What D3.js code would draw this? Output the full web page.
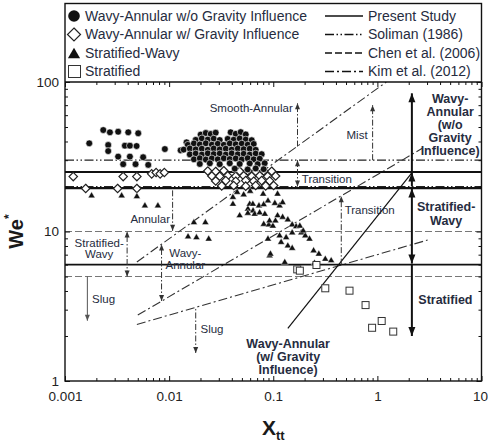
<!DOCTYPE html>
<html>
<head>
<meta charset="utf-8">
<script src="https://cdn.jsdelivr.net/npm/d3@7"></script>
<style>
  body { margin: 0; background: #fff; }
</style>
</head>
<body>
<svg id="chart" width="488" height="443"></svg>
<script>
/*
  Flow pattern map, We* against Xtt, with transition lines from
  the present study, Soliman (1986), Chen et al. (2006) and Kim et al. (2012).
*/

// tick labels
var xTickValues = [0.001, 0.01, 0.1, 1, 10];
var xTickLabels = ["0.001", "0.01", "0.1", "1", "10"];
var yTickValues = [1, 10, 100];
var yTickLabels = ["1", "10", "100"];

// data points [Xtt, We*]
var wavyAnnularNoGravity = [
  [0.00171, 38.9], [0.00233, 47.7], [0.0027, 46.1], [0.00324, 46.5], [0.00405, 46.1],
  [0.00505, 45.4], [0.0026, 37.9], [0.00376, 37.5], [0.0042, 37.5], [0.00487, 37.3],
  [0.0026, 34.5], [0.00324, 31.7], [0.0042, 31.7], [0.00563, 31.4], [0.00362, 28.2],
  [0.00476, 28.2], [0.0063, 27.9], [0.0091, 35.6], [0.0129, 34.9], [0.0147, 39.5],
  [0.0201, 44.5], [0.0225, 45.6], [0.0251, 44.9], [0.028, 45.8], [0.039, 46.1],
  [0.0436, 45.0], [0.0487, 46.2], [0.0544, 44.6],
  [0.018, 41.0], [0.0206, 41.9], [0.0235, 41.2], [0.0268, 41.8], [0.0306, 40.9],
  [0.0365, 41.6], [0.0417, 41.1], [0.0476, 41.9], [0.0544, 41.2], [0.0621, 40.8],
  [0.0151, 38.0], [0.0173, 38.8], [0.0197, 38.2], [0.0225, 38.9], [0.0257, 38.1],
  [0.0293, 38.6], [0.0335, 38.0], [0.0382, 38.8], [0.0436, 38.3], [0.0498, 38.7],
  [0.0568, 38.1], [0.0649, 38.5],
  [0.0138, 35.3], [0.0158, 35.9], [0.018, 35.4], [0.0206, 35.8], [0.0235, 35.2],
  [0.0268, 35.9], [0.0306, 35.4], [0.035, 35.8], [0.0399, 35.3], [0.0456, 35.9],
  [0.052, 35.5], [0.0594, 35.8], [0.0678, 35.2],
  [0.0158, 32.8], [0.018, 33.2], [0.0206, 32.7], [0.0235, 33.3], [0.0268, 32.9],
  [0.0306, 33.2], [0.035, 32.7], [0.0399, 33.3], [0.0456, 32.8], [0.052, 33.1],
  [0.0594, 32.7], [0.0678, 33.2], [0.0774, 32.9],
  [0.0173, 30.4], [0.0197, 30.9], [0.0225, 30.3], [0.0257, 30.8], [0.0293, 30.4],
  [0.0335, 30.9], [0.0382, 30.5], [0.0436, 30.8], [0.0498, 30.3], [0.0568, 30.9],
  [0.0649, 30.4], [0.0741, 30.7],
  [0.0197, 28.3], [0.0246, 28.6], [0.0306, 28.2], [0.0382, 28.6], [0.0476, 28.3],
  [0.0594, 28.5], [0.0709, 28.2], [0.0827, 28.6],
  [0.0427, 26.3], [0.0568, 26.0], [0.0678, 26.4], [0.0809, 26.1]
];

var wavyAnnularGravity = [
  [0.0012, 23.3], [0.00158, 19.4], [0.0032, 19.4], [0.00362, 23.3], [0.0049, 23.3],
  [0.0049, 19.4], [0.0068, 24.3], [0.0075, 24.8], [0.0082, 24.3], [0.009, 24.8],
  [0.0235, 25.4], [0.028, 25.2], [0.0335, 25.5], [0.0476, 25.3], [0.0568, 25.5],
  [0.0678, 25.2], [0.0809, 25.4], [0.0966, 25.3],
  [0.0257, 23.5], [0.0306, 23.4], [0.0365, 23.6], [0.0436, 23.4], [0.052, 23.6],
  [0.0621, 23.4], [0.0741, 23.6], [0.0884, 23.4], [0.1054, 23.5],
  [0.028, 21.8], [0.035, 21.9], [0.0436, 21.7], [0.0544, 21.9], [0.0649, 21.7],
  [0.0774, 21.9], [0.0924, 21.8],
  [0.032, 20.2], [0.0417, 20.3], [0.0544, 20.1], [0.0678, 20.3], [0.0846, 20.2],
  [0.1009, 20.3]
];

var stratifiedWavy = [
  [0.0018, 17.5], [0.0035, 17.5], [0.0049, 17.3], [0.00585, 15.0], [0.0078, 15.0],
  [0.0173, 11.6], [0.0223, 11.6], [0.0152, 9.33], [0.0183, 9.2], [0.024, 9.0],
  [0.041, 15.4], [0.0476, 12.9], [0.0571, 14.3], [0.064, 13.9], [0.089, 9.0],
  [0.0923, 6.96], [0.041, 17.1], [0.045, 18.5], [0.052, 17.8], [0.06, 18.8],
  [0.08, 18.0], [0.11, 18.0], [0.0594, 15.4], [0.0637, 15.4], [0.0729, 15.0],
  [0.081, 15.3], [0.089, 16.2], [0.1036, 15.6], [0.115, 15.0], [0.123, 15.8],
  [0.057, 13.4], [0.0663, 13.2], [0.074, 13.5], [0.083, 13.2], [0.11, 12.9],
  [0.123, 12.6], [0.138, 12.1], [0.081, 11.3], [0.0905, 11.2], [0.0991, 11.0],
  [0.092, 11.9], [0.105, 11.9], [0.152, 11.2], [0.166, 10.9], [0.18, 11.0],
  [0.115, 9.47], [0.133, 9.2], [0.152, 9.9], [0.186, 9.9], [0.203, 9.47],
  [0.223, 9.0], [0.194, 10.2], [0.119, 8.55], [0.138, 8.1], [0.152, 7.8],
  [0.094, 7.14], [0.244, 7.52], [0.274, 7.14], [0.316, 6.6], [0.36, 6.45],
  [0.129, 6.28], [0.249, 6.2]
];

var stratified = [
  [0.17, 5.58], [0.18, 5.47], [0.26, 5.97], [0.316, 4.17], [0.54, 4.02],
  [0.77, 3.22], [0.89, 2.27], [1.1, 2.52], [1.42, 2.14]
];

// transition lines
var presentLevels = [25, 19.5, 6];
var presentDiagonal = [[0.138, 2.25], [2.17, 25]];
var solimanLevels = [30, 20];
var chenLevels = [10, 5];
var kimLines = [
  [[0.0049, 6.25], [1.22, 100]],
  [[0.005, 2.76], [2.7, 36]],
  [[0.0049, 2.39], [3.04, 8.77]]
];

var FONT = "'Liberation Sans', Arial, Helvetica, sans-serif";
var TEXTCOL = "#262c40";
var DASH_KIM = "9,3,2,3";
var DASH_SOLIMAN = "9,2.5,1.5,2.5,1.5,2.5";
var DASH_CHEN = "7,3";
var DASH_ANNO = "6,2,1.5,2";

var svg = d3.select("#chart").attr("font-family", FONT);
var margin = {top: 82, right: 481.5, bottom: 381, left: 65};

var x = d3.scaleLog().domain([0.001, 10]).range([margin.left, margin.right]);
var y = d3.scaleLog().domain([1, 100]).range([margin.bottom, margin.top]);

var line = d3.line()
  .x(function(d) { return x(d[0]); })
  .y(function(d) { return y(d[1]); });

svg.append("clipPath").attr("id", "plotClip")
  .append("rect")
  .attr("x", margin.left).attr("y", margin.top)
  .attr("width", margin.right - margin.left)
  .attr("height", margin.bottom - margin.top);

var gLines = svg.append("g").attr("clip-path", "url(#plotClip)");

// Chen et al. (2006), dashed
chenLevels.forEach(function(v) {
  gLines.append("path")
    .attr("d", line([[0.001, v], [10, v]]))
    .attr("stroke", "#777").attr("stroke-width", 1)
    .attr("stroke-dasharray", DASH_CHEN).attr("fill", "none");
});

// Soliman (1986), dash-dot-dot
solimanLevels.forEach(function(v) {
  gLines.append("path")
    .attr("d", line([[0.001, v], [10, v]]))
    .attr("stroke", "#222").attr("stroke-width", 1.1)
    .attr("stroke-dasharray", DASH_SOLIMAN).attr("fill", "none");
});

// Kim et al. (2012), dash-dot
kimLines.forEach(function(l) {
  gLines.append("path")
    .attr("d", line(l))
    .attr("stroke", "#333").attr("stroke-width", 1.1)
    .attr("stroke-dasharray", DASH_KIM).attr("fill", "none");
});

// present study, solid
presentLevels.forEach(function(v, i) {
  gLines.append("path")
    .attr("d", line([[0.001, v], [10, v]]))
    .attr("stroke", "#111").attr("stroke-width", i == 1 ? 2.4 : 1.8)
    .attr("fill", "none");
});
gLines.append("path")
  .attr("d", line(presentDiagonal))
  .attr("stroke", "#111").attr("stroke-width", 1.2).attr("fill", "none");

// markers
function diamondPath(s) {
  return "M0," + (-s) + "L" + s + ",0L0," + s + "L" + (-s) + ",0Z";
}
function trianglePath(s) {
  return "M0," + (-s) + "L" + (s * 1.05) + "," + (s * 0.8) + "L" + (-s * 1.05) + "," + (s * 0.8) + "Z";
}

var gPts = svg.append("g");

gPts.selectAll(".diam").data(wavyAnnularGravity).enter().append("path")
  .attr("class", "diam")
  .attr("transform", function(d) { return "translate(" + x(d[0]) + "," + y(d[1]) + ")"; })
  .attr("d", diamondPath(4.2))
  .attr("fill", "#fff").attr("stroke", "#222").attr("stroke-width", 1.2);

gPts.selectAll(".circ").data(wavyAnnularNoGravity).enter().append("circle")
  .attr("class", "circ")
  .attr("cx", function(d) { return x(d[0]); })
  .attr("cy", function(d) { return y(d[1]); })
  .attr("r", 3.4)
  .attr("fill", "#111").attr("stroke", "#fff").attr("stroke-width", 0.6);

gPts.selectAll(".tri").data(stratifiedWavy).enter().append("path")
  .attr("class", "tri")
  .attr("transform", function(d) { return "translate(" + x(d[0]) + "," + y(d[1]) + ")"; })
  .attr("d", trianglePath(3.3))
  .attr("fill", "#111").attr("stroke", "#fff").attr("stroke-width", 0.4);

gPts.selectAll(".sq").data(stratified).enter().append("rect")
  .attr("class", "sq")
  .attr("x", function(d) { return x(d[0]) - 3.5; })
  .attr("y", function(d) { return y(d[1]) - 3.5; })
  .attr("width", 7).attr("height", 7)
  .attr("fill", "#fff").attr("stroke", "#333").attr("stroke-width", 1);

// annotation helpers
function arrowHead(g, px, py, dir, w, l, col) {
  // tip at (px, py), dir -1 points up, +1 points down
  g.append("path")
    .attr("d", "M" + px + "," + py + "L" + (px - w / 2) + "," + (py - dir * l) +
      "L" + (px + w / 2) + "," + (py - dir * l) + "Z")
    .attr("fill", col);
}

function vArrow(X, we1, we2, heads, opts) {
  // vertical arrow from we1 (bottom) to we2 (top); heads: "top", "bottom", "both"
  var g = svg.append("g");
  var px = x(X), y1 = y(we1), y2 = y(we2);
  g.append("line")
    .attr("x1", px).attr("x2", px).attr("y1", y1).attr("y2", y2)
    .attr("stroke", opts.col).attr("stroke-width", opts.sw)
    .attr("stroke-dasharray", opts.dash || null);
  if (heads == "top" || heads == "both") arrowHead(g, px, y2, -1, opts.hw, opts.hl, opts.col);
  if (heads == "bottom" || heads == "both") arrowHead(g, px, y1, 1, opts.hw, opts.hl, opts.col);
}

function label(X, We, lines, anchor, size, bold, lh) {
  var t = svg.append("text")
    .attr("x", x(X)).attr("y", y(We))
    .attr("text-anchor", anchor)
    .attr("font-size", size)
    .attr("font-weight", bold ? "bold" : "normal")
    .attr("fill", TEXTCOL);
  lines.forEach(function(s, i) {
    t.append("tspan").attr("x", x(X))
      .attr("dy", i == 0 ? "0.35em" : lh)
      .text(s);
  });
}

var thin = {col: "#333", sw: 1, dash: DASH_ANNO, hw: 5, hl: 6};
var thinSolid = {col: "#555", sw: 1, hw: 5, hl: 6};
var thick = {col: "#111", sw: 2, hw: 7, hl: 9};

// regime arrows
vArrow(0.171, 37, 72, "top", thin);
vArrow(0.9, 30, 70, "top", thin);
vArrow(0.171, 20, 30, "both", thin);
vArrow(0.45, 6, 17.2, "top", thin);
vArrow(0.0108, 10.1, 19.5, "bottom", thin);
vArrow(0.00395, 5, 10, "both", thin);
vArrow(0.00164, 2.53, 5, "bottom", thinSolid);
vArrow(0.00846, 3.43, 8.2, "both", thin);
vArrow(0.018, 1.54, 3.11, "bottom", thin);

// present study regime arrows
vArrow(2.145, 25, 84, "top", thick);
vArrow(2.145, 20, 24.8, "top", thick);
vArrow(2.145, 6.1, 19.4, "both", thick);
vArrow(2.145, 2.0, 6, "bottom", thick);

// regime labels
label(0.154, 67.5, ["Smooth-Annular"], "end", 11.5, false);
label(0.806, 44, ["Mist"], "end", 11.5, false);
label(0.188, 22.4, ["Transition"], "start", 11.5, false);
label(0.485, 13.9, ["Transition"], "start", 11.5, false);
label(0.0102, 12.1, ["Annular"], "end", 11.5, false);
label(0.00213, 8.4, ["Stratified-", "Wavy"], "middle", 11.5, false, "1em");
label(0.00182, 3.54, ["Slug"], "start", 11.5, false);
label(0.0143, 7.2, ["Wavy-", "Annular"], "middle", 11.5, false, "1.05em");
label(0.02, 2.23, ["Slug"], "start", 11.5, false);
label(0.139, 1.79, ["Wavy-Annular", "(w/ Gravity", "Influence)"], "middle", 12.5, true, "1.05em");
label(5.0, 77.8, ["Wavy-", "Annular", "(w/o", "Gravity", "Influence)"], "middle", 12.5, true, "1.05em");
label(4.58, 14.65, ["Stratified-", "Wavy"], "middle", 12.5, true, "1.08em");
label(4.5, 3.48, ["Stratified"], "middle", 12.5, true);

// axes
var xMinor = x.ticks().filter(function(d) { return xTickValues.indexOf(d) < 0; });
var yMinor = y.ticks().filter(function(d) { return yTickValues.indexOf(d) < 0; });

function styleAxis(g) {
  g.select(".domain").remove();
  g.attr("font-family", FONT).attr("font-size", 13.5);
  g.selectAll("line").attr("stroke", "#111");
  g.selectAll("text").attr("fill", "#222");
}

var gx = svg.append("g").attr("transform", "translate(0," + margin.bottom + ")")
  .call(d3.axisBottom(x).tickValues(xTickValues).tickSize(-5).tickPadding(10)
    .tickFormat(function(d, i) { return xTickLabels[i]; }))
  .call(styleAxis);
// keep the last label inside the picture
gx.selectAll("text").filter(function(d) { return d == 10; }).attr("dx", -1.5);

svg.append("g").attr("transform", "translate(0," + margin.bottom + ")")
  .call(d3.axisBottom(x).tickValues(xMinor).tickSize(-3).tickFormat(""))
  .call(styleAxis);
svg.append("g").attr("transform", "translate(0," + margin.top + ")")
  .call(d3.axisTop(x).tickValues(xTickValues).tickSize(-5).tickFormat(""))
  .call(styleAxis);
svg.append("g").attr("transform", "translate(0," + margin.top + ")")
  .call(d3.axisTop(x).tickValues(xMinor).tickSize(-3).tickFormat(""))
  .call(styleAxis);

svg.append("g").attr("transform", "translate(" + margin.left + ",0)")
  .call(d3.axisLeft(y).tickValues(yTickValues).tickSize(-5).tickPadding(6)
    .tickFormat(function(d, i) { return yTickLabels[i]; }))
  .call(styleAxis);
svg.append("g").attr("transform", "translate(" + margin.left + ",0)")
  .call(d3.axisLeft(y).tickValues(yMinor).tickSize(-3).tickFormat(""))
  .call(styleAxis);
svg.append("g").attr("transform", "translate(" + margin.right + ",0)")
  .call(d3.axisRight(y).tickValues(yTickValues).tickSize(-5).tickFormat(""))
  .call(styleAxis);
svg.append("g").attr("transform", "translate(" + margin.right + ",0)")
  .call(d3.axisRight(y).tickValues(yMinor).tickSize(-3).tickFormat(""))
  .call(styleAxis);

// frame: plot plus legend box on top
svg.append("rect")
  .attr("x", margin.left).attr("y", 3.5)
  .attr("width", margin.right - margin.left).attr("height", margin.bottom - 3.5)
  .attr("fill", "none").attr("stroke", "#111").attr("stroke-width", 1.4);
svg.append("line")
  .attr("x1", margin.left).attr("x2", margin.right)
  .attr("y1", margin.top).attr("y2", margin.top)
  .attr("stroke", "#111").attr("stroke-width", 1.4);

// axis titles
var yTitle = svg.append("text")
  .attr("transform", "translate(23," + y(10) + ") rotate(-90)")
  .attr("text-anchor", "middle")
  .attr("font-size", 20).attr("font-weight", "bold").attr("fill", "#1a1a1a");
yTitle.append("tspan").text("We");
yTitle.append("tspan").attr("font-size", 12).attr("dy", "-0.8em").text("*");

var xTitle = svg.append("text")
  .attr("x", (margin.left + margin.right) / 2).attr("y", 435)
  .attr("text-anchor", "middle")
  .attr("font-size", 21).attr("font-weight", "bold").attr("fill", "#1a1a1a");
xTitle.append("tspan").text("X");
xTitle.append("tspan").attr("font-size", 13).attr("dy", "0.35em").text("tt");

// legend
var legLeft = [
  {name: "Wavy-Annular w/o Gravity Influence", type: "circle"},
  {name: "Wavy-Annular w/ Gravity Influence", type: "diamond"},
  {name: "Stratified-Wavy", type: "triangle"},
  {name: "Stratified", type: "square"}
];
var legRight = [
  {name: "Present Study", dash: null},
  {name: "Soliman (1986)", dash: DASH_SOLIMAN},
  {name: "Chen et al. (2006)", dash: DASH_CHEN},
  {name: "Kim et al. (2012)", dash: DASH_KIM}
];
var legRows = [16, 34.5, 53, 71.5];

var gLeg = svg.append("g").attr("font-size", 14).attr("fill", TEXTCOL);
legLeft.forEach(function(d, i) {
  var cy = legRows[i];
  if (d.type == "circle") {
    gLeg.append("circle").attr("cx", 74).attr("cy", cy).attr("r", 5.8).attr("fill", "#111");
  } else if (d.type == "diamond") {
    gLeg.append("path").attr("transform", "translate(74," + cy + ")")
      .attr("d", diamondPath(6.5)).attr("fill", "#fff").attr("stroke", "#222").attr("stroke-width", 1.2);
  } else if (d.type == "triangle") {
    gLeg.append("path").attr("transform", "translate(74," + (cy + 0.5) + ")")
      .attr("d", trianglePath(5.8)).attr("fill", "#111");
  } else {
    gLeg.append("rect").attr("x", 68.5).attr("y", cy - 6).attr("width", 12).attr("height", 12)
      .attr("fill", "#fff").attr("stroke", "#333").attr("stroke-width", 1);
  }
  gLeg.append("text").attr("x", 85).attr("y", cy).attr("dy", "0.35em").text(d.name);
});
legRight.forEach(function(d, i) {
  var cy = legRows[i];
  gLeg.append("line")
    .attr("x1", 325).attr("x2", 363).attr("y1", cy).attr("y2", cy)
    .attr("stroke", "#111").attr("stroke-width", 1.4)
    .attr("stroke-dasharray", d.dash);
  gLeg.append("text").attr("x", 368).attr("y", cy).attr("dy", "0.35em").text(d.name);
});
</script>
</body>
</html>
